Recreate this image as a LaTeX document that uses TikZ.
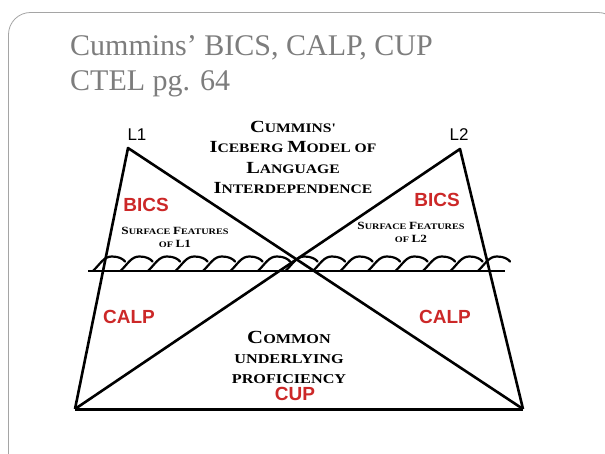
\documentclass[tikz,border=0pt]{standalone}
\usepackage{fontspec}
\setmainfont{Liberation Serif}
\setsansfont{Liberation Sans}
\newfontfamily\wideserif{Liberation Serif}[FakeStretch=1.2]
\definecolor{titlegray}{RGB}{125,125,125}
\definecolor{labelred}{RGB}{204,40,40}
\definecolor{framegray}{RGB}{165,165,165}
% big and small letters of the hand-made small caps
\def\bigsz{17}\def\smsz{13}
\newcommand\Bg[1]{{\fontsize{\bigsz}{\bigsz}\selectfont #1}}
\newcommand\Sm[1]{{\fontsize{\smsz}{\smsz}\selectfont #1}}
\tikzset{
  sclabel/.style={align=center, inner sep=0pt},
  redlabel/.style={font=\sffamily\bfseries\fontsize{19}{19}\selectfont, text=labelred, inner sep=0pt},
  langlabel/.style={font=\sffamily\fontsize{17}{17}\selectfont, inner sep=0pt},
  thickline/.style={line width=2.6pt, line join=round},
  wave/.style={line width=2.2pt, line cap=round},
}
\begin{document}
\begin{tikzpicture}[x=1pt,y=-1pt]
\useasboundingbox (0,0) rectangle (605,454);
\fill[white] (0,0) rectangle (605,454);
\draw[framegray, line width=0.8pt, rounded corners=22pt] (8.5,12.5) rectangle (620,480);
% slide title
\node[anchor=base west, text=titlegray, font=\fontsize{30}{36}\selectfont, inner sep=0pt] (titleA) at (70,56) {Cummins’ BICS, CALP, CUP};
\node[anchor=base west, text=titlegray, font=\fontsize{30}{36}\selectfont, inner sep=0pt] (titleB) at (70,91) {CTEL pg. 64};
% corners of the two icebergs
\coordinate (apexA) at (128,148);
\coordinate (apexB) at (460,149);
\coordinate (baseL) at (75,409);
\coordinate (baseR) at (523,409);
\coordinate (waterL) at (88,271);
\coordinate (waterR) at (505,271);
% waves on the waterline
\foreach \i in {0,...,14}{
  \pgfmathsetmacro\wx{93+27.5*\i}
  \draw[wave] (\wx,271) .. controls (\wx+8,263) and (\wx+11,256.5) .. (\wx+19,256.5) .. controls (\wx+26,256.5) and (\wx+30,259) .. (\wx+32,261.5);
}
\draw[line width=2pt] (waterL) -- (waterR);
\draw[thickline] (baseL) -- (apexA) -- (baseR);
\draw[thickline] (baseL) -- (apexB) -- (baseR);
\draw[line width=3pt] (baseL) -- (baseR);
% labels
\node[langlabel] (lone) at (137,135) {L1};
\node[langlabel] (ltwo) at (459,135) {L2};
\node[sclabel, font=\wideserif\bfseries\fontsize{13}{20.5}\selectfont] (model) at (293,157.5)
  {\Bg{C}\Sm{UMMINS'}\\ \Bg{I}\Sm{CEBERG} \Bg{M}\Sm{ODEL OF}\\ \Bg{L}\Sm{ANGUAGE}\\ \Bg{I}\Sm{NTERDEPENDENCE}};
\node[redlabel] (bicsA) at (146,205) {BICS};
\node[redlabel] (bicsB) at (437,200) {BICS};
\node[sclabel, font=\def\bigsz{11}\def\smsz{8.5}\wideserif\bfseries\fontsize{8.5}{13}\selectfont] (surfA) at (175,237.5)
  {\Bg{S}\Sm{URFACE} \Bg{F}\Sm{EATURES}\\ \Sm{OF} \Bg{L1}};
\node[sclabel, font=\def\bigsz{11}\def\smsz{8.5}\wideserif\bfseries\fontsize{8.5}{13}\selectfont] (surfB) at (411,232.5)
  {\Bg{S}\Sm{URFACE} \Bg{F}\Sm{EATURES}\\ \Sm{OF} \Bg{L2}};
\node[redlabel] (calpA) at (129,317) {CALP};
\node[redlabel] (calpB) at (445,317) {CALP};
\node[sclabel, font=\def\bigsz{18.5}\def\smsz{13.5}\wideserif\bfseries\fontsize{13.5}{20}\selectfont] (common) at (289,357)
  {\Bg{C}\Sm{OMMON}\\ \Sm{UNDERLYING}\\ \Sm{PROFICIENCY}};
\node[redlabel] (cup) at (295,394) {CUP};
\end{tikzpicture}
\end{document}
